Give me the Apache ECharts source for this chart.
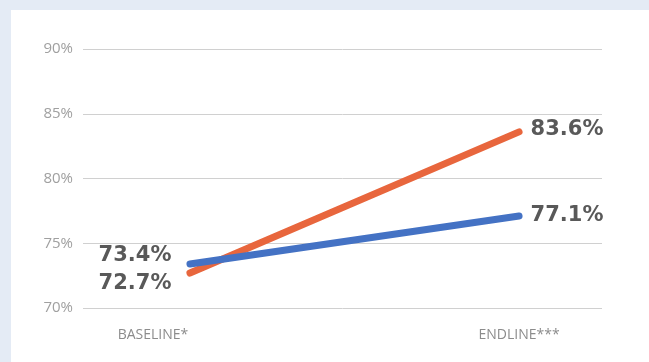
<!DOCTYPE html>
<html>
<head>
<meta charset="utf-8">
<script src="https://cdn.jsdelivr.net/npm/echarts@6/dist/echarts.min.js"></script>
<style>
html,body{margin:0;padding:0;background:#e4ebf5;}
#wrap{position:absolute;left:11px;top:10px;right:0;bottom:0;background:#fff;}
#chart{position:absolute;left:0;top:0;width:649px;height:362px;}
</style>
</head>
<body>
<div id="wrap"></div>
<div id="chart"></div>
<script>
const categories = ['BASELINE*', 'ENDLINE***'];
const orangeValues = [72.7, 83.6];
const blueValues = [73.4, 77.1];
const yTicks = [70, 75, 80, 85, 90];

const chart = echarts.init(document.getElementById('chart'));
const labelBase = {
  show: true,
  fontFamily: 'DejaVu Sans',
  fontWeight: 'bold',
  fontSize: 21,
  color: '#595959',
  formatter: p => p.value[1].toFixed(1) + '%'
};
function pts(vals, startOffY, endOffY) {
  return vals.map((v, i) => ({
    value: [i, v],
    label: Object.assign({}, labelBase, i === 0
      ? {position: 'left', distance: 18, offset: [0, startOffY]}
      : {position: 'right', distance: 11, offset: [0, endOffY]})
  }));
}
chart.setOption({
  animation: false,
  backgroundColor: 'transparent',
  grid: {left: 83, right: 47, top: 49, bottom: 54},
  xAxis: {
    type: 'value', min: -0.325, max: 1.252,
    splitLine: {show: false}, axisLine: {show: false}, axisTick: {show: false},
    axisLabel: {
      customValues: [0, 1], margin: 20,
      fontFamily: 'Open Sans', fontSize: 14, color: '#8c8c8c',
      formatter: v => v === 0 ? '{b|' + categories[0] + '}' : '{e|' + categories[1] + '}',
      rich: {
        b: {padding: [0, 74, 0, 0], fontFamily: 'Open Sans', fontSize: 14, color: '#8c8c8c'},
        e: {padding: [0, 0, 0, 0], fontFamily: 'Open Sans', fontSize: 14, color: '#8c8c8c'}
      }
    }
  },
  yAxis: {
    type: 'value', min: yTicks[0], max: yTicks[yTicks.length - 1], interval: 5,
    axisLine: {show: false}, axisTick: {show: false},
    splitLine: {lineStyle: {color: '#d0d0d0', width: 1}},
    axisLabel: {margin: 10, fontFamily: 'Open Sans', fontSize: 15, color: '#a0a0a0', formatter: '{value}%'}
  },
  series: [
    {type: 'line', data: pts(orangeValues, 11, -2), symbol: 'circle', symbolSize: 1,
     itemStyle: {color: '#e8663d'},
     lineStyle: {color: '#e8663d', width: 7, cap: 'round'}, z: 2},
    {type: 'line', data: pts(blueValues, -8, -1), symbol: 'circle', symbolSize: 1,
     itemStyle: {color: '#4472c4'},
     lineStyle: {color: '#4472c4', width: 7, cap: 'round'}, z: 3}
  ]
});
</script>
</body>
</html>
